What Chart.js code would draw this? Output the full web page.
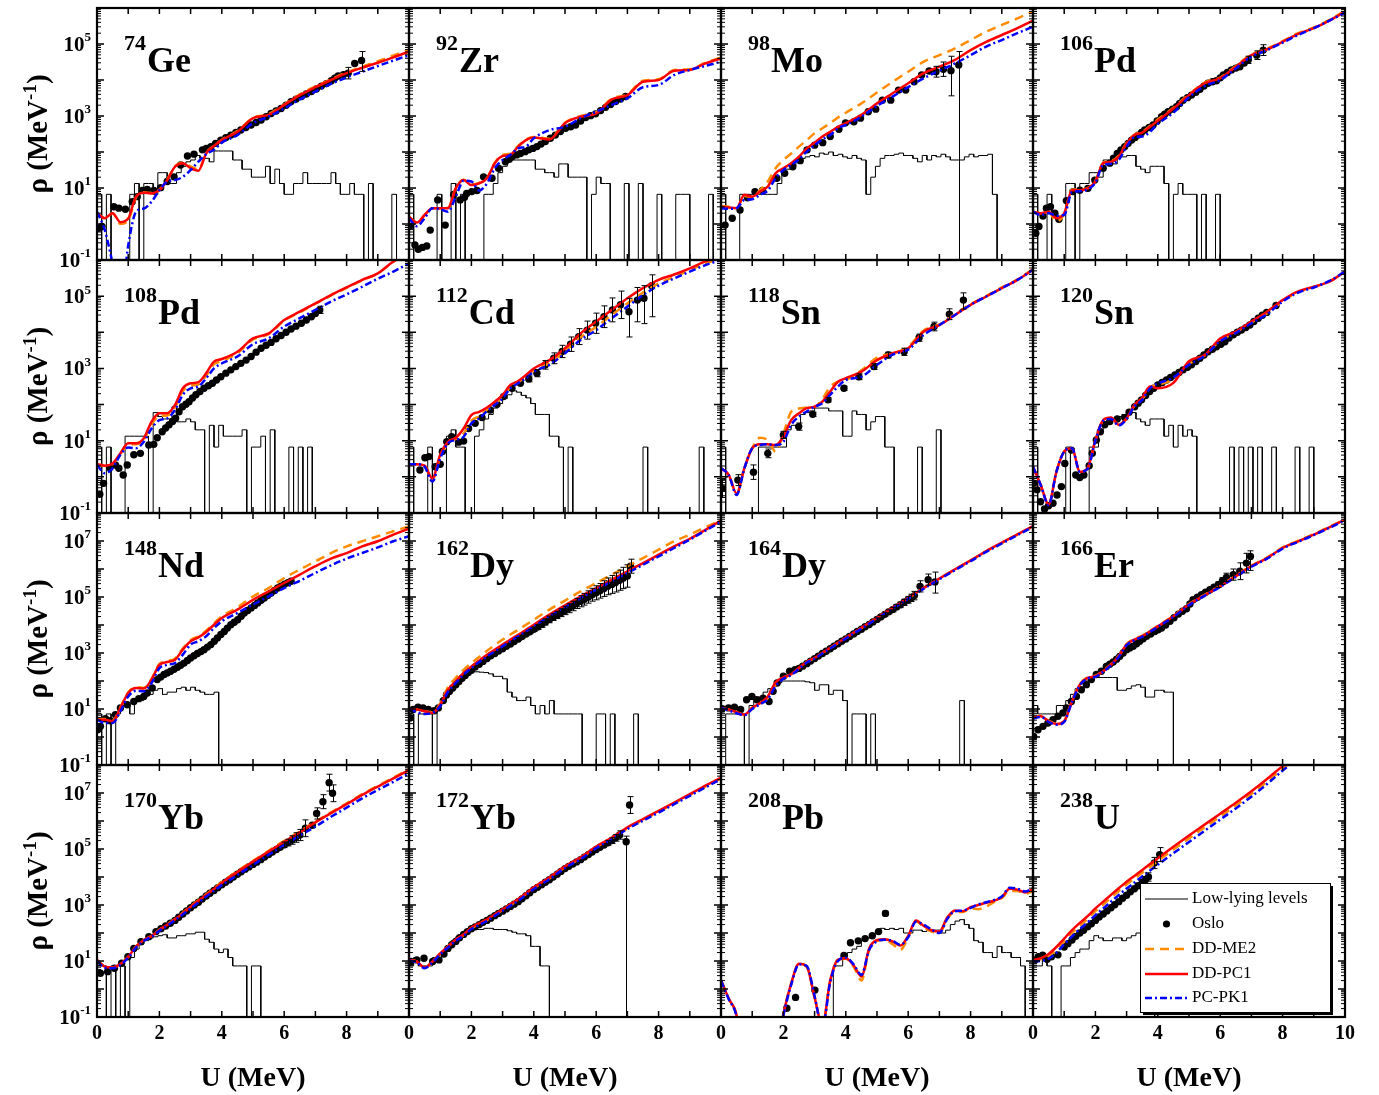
<!DOCTYPE html>
<html>
<head>
<meta charset="utf-8">
<script src="https://cdn.jsdelivr.net/npm/chart.js@4.4.1/dist/chart.umd.min.js"></script>
<style>
body { margin: 0; background: #fff; }
#wrap { position: relative; width: 1379px; height: 1095px; overflow: hidden; }
#wrap canvas { position: absolute; }
</style>
</head>
<body>
<div id="wrap"></div>
<script>
// energy grids (MeV) and histogram bin width
const E29 = [0,0.25,0.5,0.75,1,1.25,1.5,1.75,2,2.25,2.5,2.75,3,3.25,3.5,3.75,4,4.5,5,5.5,6,6.5,7,7.5,8,8.5,9,9.5,10];
const E41 = [0,0.25,0.5,0.75,1,1.25,1.5,1.75,2,2.25,2.5,2.75,3,3.25,3.5,3.75,4,4.25,4.5,4.75,5,5.25,5.5,5.75,6,6.25,6.5,6.75,7,7.25,7.5,7.75,8,8.25,8.5,8.75,9,9.25,9.5,9.75,10];
const BIN = 0.15;
const LEGEND_LABELS = ['Low-lying levels', 'Oslo', 'DD-ME2', 'DD-PC1', 'PC-PK1'];

// curves: log10(rho) on the grid; oslo: [U, log10 rho, errLo, errHi]; lev: levels per 0.15 MeV bin
const ge74_me2 = [0.30,0.16,0.30,0.0,0.1,0.74,0.88,0.86,0.95,1.24,1.6,1.7,1.6,1.52,1.97,2.18,2.34,2.58,2.95,3.05,3.32,3.6,3.82,4.02,4.21,4.37,4.52,4.68,4.84];
const ge74_pc1 = [0.30,0.16,0.30,0.05,0.15,0.76,0.87,0.85,0.94,1.22,1.59,1.69,1.55,1.48,1.96,2.17,2.33,2.56,2.94,3.03,3.31,3.58,3.8,4.0,4.19,4.34,4.48,4.63,4.79];
const ge74_pk1 = [0.34,-0.17,-1.1,-2.2,-0.6,0.34,0.43,0.62,0.94,1.18,1.22,1.31,1.5,1.73,1.94,2.06,2.26,2.47,2.8,2.98,3.21,3.46,3.68,3.89,4.07,4.23,4.39,4.54,4.69];
const ge74_oslo = [[0.05,-0.12],[0.16,-0.07],[0.54,0.48],[0.7,0.44],[0.91,0.41],[1.13,0.62],[1.29,0.76],[1.45,0.93],[1.61,0.96],[1.82,0.93],[2.04,1.01],[2.25,1.18],[2.47,1.31],[2.68,1.64],[2.9,1.89],[3.11,1.94],[3.38,2.06],[3.65,2.15],[3.97,2.33],[4.29,2.47],[4.61,2.61],[4.94,2.75],[5.26,2.89],[5.58,3.07],[5.9,3.21],[6.22,3.4],[6.55,3.54],[6.87,3.68],[7.19,3.83],[7.51,3.98],[7.73,4.11],[8.05,4.19,0.16,0.16],[8.26,4.46],[8.48,4.54,0.3,0.25],
  [3.5,2.1],[3.8,2.24],[4.13,2.4],[4.45,2.54],[4.77,2.68],[5.1,2.82],[5.42,2.98],[5.74,3.14],[6.06,3.3],[6.38,3.47],[6.71,3.61],[7.03,3.75],[7.35,3.9],[7.62,4.05],[7.9,4.15]];
const ge74_lev = [1,0,1,0,0,0,0,1,2,0,2,2,1,4,4,2,2,4,6,8,9,12,10,10,8,16,16,16,16,9,9,5,5,3,3,3,6,2,5,2,1,1,2,2,4,2,2,2,2,2,4,2,1,1,2,1,1,0,2,0,0,0,0,1];

const zr92_me2 = [0.2,0.04,0.25,0.44,0.44,0.45,1.0,1.23,1.1,1.14,1.28,1.7,1.92,1.95,2.17,2.35,2.42,2.37,2.82,3.0,3.1,3.48,3.6,3.98,4.02,4.28,4.3,4.48,4.62];
const zr92_pc1 = [0.2,0.04,0.25,0.44,0.44,0.44,0.99,1.22,1.08,1.13,1.27,1.69,1.89,1.92,2.15,2.33,2.4,2.35,2.8,2.98,3.07,3.46,3.58,3.95,4.0,4.26,4.28,4.46,4.6];
const zr92_pk1 = [0.16,-0.06,0.16,0.44,0.41,0.34,0.76,1.2,1.18,0.93,1.13,1.55,1.78,1.92,2.1,2.15,2.38,2.61,2.7,2.94,3.12,3.31,3.49,3.8,3.86,4.14,4.28,4.39,4.51];
const zr92_oslo = [[0.02,-0.07],[0.19,-0.58],[0.3,-0.7],[0.43,-0.65],[0.57,-0.61],[0.68,-0.17],[0.92,0.67],[1.16,-0.03],[1.43,0.82],[1.64,0.67],[1.78,0.74],[1.85,0.85],[2.01,0.9],[2.18,0.93],[2.39,1.31],[2.66,1.27],[2.87,1.55],[3.09,1.73],[3.3,1.87],[3.57,1.96],[3.84,2.06],[4.1,2.15],[4.37,2.29],[4.69,2.47],[5.02,2.66],[5.34,2.75],[5.66,2.96],[5.98,3.06],[6.3,3.24],[6.62,3.4],[6.94,3.54],
  [3.2,1.8],[3.45,1.92],[3.72,2.01],[3.97,2.1],[4.23,2.22],[4.53,2.38],[4.85,2.57],[5.18,2.7],[5.5,2.86],[5.82,3.01],[6.14,3.15],[6.46,3.32],[6.78,3.47]];
const zr92_lev = [1,0,0,0,0,0,1,0,0,2,0,1,0,0,0,0,1,1,2,4,6,8,9,9,9,9,9,5,5,4,4,3,7,7,3,3,3,3,0,1,3,2,2,0,0,0,2,0,0,2,0,0,0,1,0,0,0,1,1,1,0,0,0,0,1];

const mo98_me2 = [0.5,0.48,0.44,0.78,0.74,0.94,1.18,1.55,1.78,1.96,2.15,2.33,2.52,2.66,2.8,2.96,3.09,3.35,3.65,3.95,4.23,4.51,4.69,4.88,5.11,5.34,5.53,5.71,5.9];
const mo98_pc1 = [0.48,0.46,0.44,0.81,0.76,0.9,1.04,1.41,1.55,1.69,1.87,2.1,2.26,2.43,2.56,2.7,2.8,3.03,3.35,3.63,3.91,4.19,4.37,4.56,4.83,5.06,5.25,5.44,5.65];
const mo98_pk1 = [0.44,0.42,0.44,0.67,0.69,0.81,0.93,1.27,1.5,1.64,1.8,2.01,2.19,2.35,2.47,2.66,2.75,2.98,3.28,3.54,3.8,4.05,4.26,4.46,4.69,4.93,5.11,5.3,5.48];
const mo98_oslo = [[0.13,-0.03],[0.36,0.16],[0.61,0.39],[0.85,0.73],[1.09,0.9],[1.33,0.93],[1.79,1.27],[2.04,1.41],[2.3,1.59],[2.54,1.76],[2.76,2.06],[3.0,2.19],[3.26,2.26],[3.5,2.43],[3.78,2.63],[3.99,2.81],[4.26,2.84],[4.47,2.94],[4.72,3.12],[4.96,3.19],[5.17,3.44],[5.44,3.44],[5.69,3.72],[5.92,3.72],[6.19,3.95],[6.43,4.14],[6.67,4.25],[6.89,4.23,0.15,0.15],[7.13,4.3,0.2,0.2],[7.37,4.26,0.7,0.4],[7.62,4.42,9,0.37]];
const mo98_lev = [1,0,0,0,1,1,1,1,1,1,1,1,2,5,5,6,9,10,11,12,11,14,13,15,12,13,11,10,12,10,9,1,3,6,10,12,12,13,14,12,12,10,8,12,9,12,11,13,11,9,9,9,11,13,11,12,12,13,1];

const pd106_me2 = [0.34,0.3,0.32,0.08,0.28,0.95,0.96,1.0,1.2,1.7,1.75,1.9,2.26,2.48,2.56,2.72,2.9,3.23,3.6,3.93,4.07,4.39,4.71,4.87,5.08,5.3,5.46,5.67,5.92];
const pd106_pc1 = [0.34,0.3,0.34,0.16,0.3,0.94,0.94,0.99,1.18,1.69,1.73,1.87,2.24,2.47,2.54,2.7,2.87,3.21,3.58,3.91,4.05,4.37,4.69,4.85,5.06,5.28,5.44,5.65,5.9];
const pd106_pk1 = [0.34,0.25,0.3,0.23,0.25,0.89,0.91,0.96,1.15,1.64,1.67,1.78,2.15,2.41,2.43,2.56,2.78,3.09,3.52,3.83,4.0,4.32,4.65,4.83,5.04,5.25,5.44,5.65,5.87];
const pd106_oslo = [[0.09,-0.26],[0.19,-0.07],[0.32,0.22],[0.43,0.44],[0.56,0.48],[0.7,0.3],[0.83,0.13],[1.07,0.65],[1.28,0.9],[1.5,0.94],[1.76,0.99],[1.98,1.22],[2.25,1.55],[2.46,1.69],[2.7,1.96],[2.94,2.15],[3.16,2.33],[3.37,2.47],[3.58,2.61],[3.85,2.75],[4.12,2.98],[4.33,3.12],[4.6,3.26],[4.81,3.44],[5.08,3.58],[5.35,3.74],[5.61,3.91],[5.88,3.98],[6.1,4.14],[6.36,4.28],[6.63,4.37],[6.9,4.56,0.1,0.1],[7.17,4.69,0.12,0.12],[7.38,4.83,0.15,0.15],
  [2.58,1.83],[2.82,2.06],[3.05,2.24],[3.27,2.4],[3.48,2.54],[3.72,2.68],[3.98,2.86],[4.22,3.05],[4.47,3.19],[4.7,3.35],[4.95,3.51],[5.22,3.66],[5.48,3.83],[5.75,3.95],[6.0,4.06],[6.23,4.21],[6.5,4.33],[6.77,4.47]];
const pd106_lev = [1,0,0,1,0,0,0,2,2,0,2,2,4,4,3,9,9,7,11,11,12,12,6,5,4,6,6,6,2,0,1,2,1,1,1,0,1,0,0,1];

const pd108_me2 = [0.35,0.3,0.36,0.63,0.9,0.9,1.02,1.45,1.68,1.7,1.92,2.37,2.52,2.56,2.8,3.12,3.2,3.42,3.8,3.95,4.32,4.55,4.79,5.02,5.23,5.44,5.63,5.95,6.2];
const pd108_pc1 = [0.35,0.31,0.37,0.65,0.93,0.93,1.07,1.53,1.76,1.76,1.99,2.45,2.59,2.62,2.87,3.19,3.26,3.46,3.83,3.97,4.34,4.57,4.8,5.03,5.24,5.45,5.63,5.96,6.2];
const pd108_pk1 = [0.33,0.1,0.24,0.61,0.81,0.79,0.97,1.34,1.57,1.62,1.85,2.27,2.45,2.5,2.73,3.0,3.14,3.33,3.67,3.83,4.16,4.39,4.62,4.85,5.05,5.26,5.48,5.68,5.91];
const pd108_oslo = [[0.09,-0.48],[0.21,-0.18],[0.41,0.25],[0.59,0.33],[0.7,0.24],[0.84,0.05],[0.97,0.33],[1.18,0.61],[1.39,0.65],[1.66,0.88],[1.82,0.9],[1.93,1.08],[2.09,1.25],[2.31,1.44],[2.52,1.62],[2.74,1.94],[2.95,2.08],[3.17,2.27],[3.43,2.45],[3.7,2.59],[3.97,2.77],[4.29,2.96],[4.61,3.14],[4.94,3.33],[5.26,3.56],[5.58,3.72],[5.9,3.91],[6.22,4.09],[6.55,4.25],[6.87,4.43],[7.14,4.62,0.1,0.1],
  [2.2,1.35],[2.42,1.53],[2.63,1.8],[2.85,2.01],[3.06,2.18],[3.3,2.36],[3.57,2.52],[3.83,2.68],[4.13,2.87],[4.45,3.05],[4.78,3.23],[5.1,3.45],[5.42,3.64],[5.74,3.82],[6.06,4.0],[6.38,4.17],[6.71,4.34],[7.0,4.52]];
const pd108_lev = [1,0,1,0,0,0,2,2,2,2,2,0,9,7,6,6,13,5,5,6,5,3,3,0,4,1,4,2,2,2,2,3,0,1,1,2,0,3,0,0,0,1,0,1,0,1];

const cd112_me2 = [0.35,0.35,0.3,-0.08,0.55,0.95,1.05,1.2,1.55,1.68,1.86,2.03,2.22,2.5,2.62,2.78,2.95,3.15,3.48,3.86,4.15,4.48,4.8,5.1,5.35,5.53,5.72,5.9,6.04];
const cd112_pc1 = [0.35,0.35,0.31,-0.04,0.61,0.97,1.08,1.34,1.71,1.8,1.92,2.08,2.27,2.54,2.65,2.82,3.0,3.23,3.56,3.97,4.3,4.62,4.94,5.22,5.45,5.6,5.77,5.96,6.1];
const cd112_pk1 = [0.35,0.35,0.28,-0.13,0.51,0.93,1.02,1.11,1.48,1.62,1.82,1.99,2.17,2.45,2.59,2.73,2.91,3.1,3.42,3.79,4.06,4.39,4.71,5.03,5.29,5.49,5.68,5.86,6.0];
const cd112_oslo = [[0.35,0.19],[0.51,0.53],[0.64,0.56],[0.84,0.28],[1.0,0.35],[1.07,0.7],[1.21,0.97],[1.37,1.11],[1.59,0.96],[1.75,0.99],[1.91,1.34],[2.12,1.48],[2.34,1.64],[2.6,1.85],[2.82,2.01],[3.03,2.22],[3.3,2.45],[3.57,2.59],[3.84,2.71,0.08,0.08],[4.1,2.87,0.1,0.1],[4.37,3.1,0.12,0.12],[4.64,3.28,0.15,0.15],[4.91,3.47,0.17,0.17],[5.18,3.67,0.2,0.2],[5.44,3.88,0.22,0.22],[5.71,4.06,0.25,0.25],[5.98,4.25,0.28,0.28],[6.25,4.43,0.3,0.3],[6.52,4.62,0.33,0.33],[6.78,4.76,0.38,0.38],[7.05,4.57,0.7,0.37],[7.32,4.89,0.6,0.35],[7.53,4.94,0.7,0.35],[7.78,5.29,0.86,0.3]];
const cd112_lev = [1,0,0,0,1,0,0,0,2,3,1,1,0,0,2,3,6,8,12,16,22,28,36,33,27,23,16,8,8,8,2,2,1,0,1,0,0,0,0,0,0,0,0,0,0,0,0,0,0,0,1,0,0,0,0,0,0,0,0,0,0,0,1];

const sn118_me2 = [0.24,0.05,-0.46,0.24,0.79,1.08,1.01,0.7,1.2,1.8,1.89,1.92,1.94,2.15,2.5,2.63,2.68,2.95,3.3,3.42,3.6,4.05,4.22,4.5,4.78,5.0,5.24,5.46,5.75];
const sn118_pc1 = [0.24,0.05,-0.46,0.24,0.79,0.9,0.9,0.88,1.11,1.57,1.76,1.9,1.94,2.08,2.36,2.63,2.73,2.91,3.23,3.42,3.56,4.02,4.2,4.48,4.76,4.99,5.22,5.45,5.73];
const sn118_pk1 = [0.24,0.05,-0.5,0.24,0.79,0.88,0.9,0.88,0.97,1.44,1.67,1.81,1.94,2.04,2.27,2.5,2.68,2.77,3.1,3.38,3.52,3.93,4.2,4.48,4.76,4.99,5.22,5.45,5.73];
const sn118_oslo = [[0.04,-0.32,0.25,0.25],[0.54,-0.09,0.15,0.15],[1.04,0.13,0.2,0.2],[1.5,0.65,0.12,0.12],[2.0,1.16,0.1,0.1],[2.49,1.39,0.1,0.1],[2.94,1.73,0.06,0.06],[3.43,2.13,0.06,0.06],[3.94,2.45,0.06,0.06],[4.42,2.77,0.08,0.08],[4.9,3.05,0.08,0.08],[5.36,3.37,0.08,0.08],[5.87,3.46,0.1,0.1],[6.35,3.85,0.1,0.1],[6.83,4.16,0.12,0.12],[7.32,4.5,0.15,0.15],[7.77,4.89,0.25,0.2]];
const sn118_lev = [1,0,0,0,0,0,0,0,1,1,1,1,1,1,3,4,4,8,9,10,12,12,12,10,10,10,2,2,10,8,8,3,5,7,7,1,1,0,0,0,0,0,1,0,0,0,3];

const sn120_me2 = [0.28,-0.23,-0.77,0.14,0.7,0.79,0.14,0.23,1.01,1.56,1.62,1.45,1.61,1.97,2.16,2.47,2.55,2.7,3.12,3.36,3.77,4.0,4.27,4.52,4.86,5.11,5.25,5.41,5.68];
const sn120_pc1 = [0.28,-0.23,-0.76,0.14,0.7,0.79,0.14,0.24,1.02,1.57,1.64,1.44,1.62,1.99,2.19,2.5,2.45,2.6,3.2,3.37,3.83,4.02,4.3,4.57,4.89,5.13,5.26,5.4,5.68];
const sn120_pk1 = [0.28,-0.23,-0.78,0.14,0.7,0.79,0.14,0.22,1.0,1.55,1.6,1.42,1.6,1.95,2.13,2.45,2.58,2.75,3.1,3.35,3.75,3.98,4.25,4.5,4.85,5.1,5.24,5.42,5.68];
const sn120_oslo = [[0.02,-0.18],[0.13,-0.36],[0.24,-0.69],[0.37,-0.89],[0.5,-0.8],[0.64,-0.73],[0.77,-0.5],[0.91,-0.27],[1.02,0.37],[1.23,0.74],[1.37,0.05],[1.5,-0.02],[1.63,0.05],[1.8,0.31],[1.9,0.65],[2.03,1.02],[2.16,1.25],[2.3,1.44],[2.46,1.53],[2.7,1.6],[2.94,1.64],[3.08,1.79],[3.26,1.94],[3.48,2.13],[3.74,2.36],[4.0,2.54],[4.28,2.68],[4.55,2.82],[4.81,2.96],[5.08,3.1],[5.35,3.28],[5.61,3.46],[5.88,3.6],[6.15,3.74],[6.42,3.93],[6.68,4.06],[6.95,4.2],[7.22,4.39],[7.49,4.55],[7.79,4.74],
  [3.37,2.04],[3.61,2.25],[3.87,2.45],[4.14,2.61],[4.41,2.75],[4.68,2.89],[4.95,3.03],[5.22,3.19],[5.48,3.37],[5.75,3.53],[6.02,3.67],[6.28,3.84],[6.55,4.0],[6.82,4.13],[7.08,4.3],[7.35,4.47]];
const sn120_lev = [1,0,0,0,0,0,0,1,0,0,0,0,1,1,3,5,6,6,7,8,9,9,6,5,4,6,6,6,2,4,1,4,2,3,2,0,0,0,0,0,0,0,1,0,1,0,1,0,1,0,0,1,0,0,0,0,1,0,0,1];

const nd148_me2 = [0.64,0.64,0.58,1.07,1.6,1.78,1.76,2.08,2.61,2.71,2.8,3.16,3.46,3.6,3.8,4.06,4.31,4.63,5.02,5.32,5.68,5.98,6.27,6.57,6.81,6.99,7.17,7.35,7.52];
const nd148_pc1 = [0.62,0.62,0.56,1.04,1.57,1.75,1.73,2.05,2.58,2.68,2.76,3.12,3.42,3.56,3.75,4.01,4.25,4.55,4.9,5.2,5.5,5.8,6.1,6.37,6.57,6.81,6.99,7.23,7.44];
const nd148_pk1 = [0.62,0.5,0.5,0.92,1.45,1.65,1.63,1.93,2.46,2.58,2.64,2.94,3.3,3.42,3.6,3.89,4.13,4.43,4.73,5.02,5.32,5.58,5.86,6.13,6.37,6.57,6.77,6.99,7.17];
const nd148_oslo = [[0.02,0.26],[0.11,0.38],[0.27,0.65],[0.43,0.58],[0.59,0.8],[0.75,1.04],[0.97,1.15],[1.18,1.27],[1.34,1.37],[1.5,1.45],[1.61,1.57],[1.77,1.75],[1.93,2.05],[2.15,2.23],[2.36,2.35],[2.58,2.49],[2.79,2.64],[3.0,2.82],[3.22,2.98],[3.43,3.12],[3.65,3.3],[3.86,3.54],[4.08,3.77],[4.29,4.01],[4.51,4.19],[4.72,4.43],[4.94,4.61],[5.15,4.79],[5.36,4.96],[5.58,5.14],[5.79,5.32],[6.01,5.46],[6.22,5.56],
  [2.04,2.14],[2.25,2.29],[2.47,2.42],[2.68,2.56],[2.9,2.73],[3.11,2.9],[3.33,3.05],[3.54,3.21],[3.76,3.42],[3.97,3.66],[4.18,3.89],[4.4,4.1],[4.62,4.31],[4.83,4.52],[5.05,4.7],[5.26,4.88],[5.47,5.05],[5.69,5.23],[5.9,5.39],[6.12,5.51]];
const nd148_lev = [1,0,1,0,1,2,2,1,3,3,5,5,7,8,5,6,6,8,9,7,9,7,6,5,5,6];

const dy162_me2 = [0.98,0.98,0.92,0.88,1.2,1.78,2.11,2.4,2.64,2.86,3.08,3.28,3.48,3.66,3.83,4.01,4.19,4.55,4.87,5.2,5.5,5.8,6.1,6.39,6.69,6.99,7.23,7.49,7.75];
const dy162_pc1 = [0.98,0.98,0.92,0.86,1.15,1.69,1.99,2.29,2.52,2.73,2.94,3.12,3.3,3.48,3.65,3.83,4.01,4.37,4.7,5.02,5.32,5.62,5.92,6.21,6.51,6.81,7.08,7.4,7.73];
const dy162_pk1 = [0.98,0.89,0.82,0.86,1.1,1.61,1.93,2.23,2.46,2.68,2.88,3.06,3.24,3.42,3.6,3.77,3.95,4.31,4.63,4.96,5.26,5.56,5.86,6.15,6.45,6.75,7.05,7.37,7.68];
const dy162_oslo = [[0.03,0.68],[0.13,0.98],[0.29,1.06],[0.45,1.04],[0.62,0.98],[0.81,0.94],[0.94,1.04],[1.2,1.5],[1.4,1.75],[1.6,1.98],[1.8,2.2],[2.0,2.38],[2.25,2.6],[2.5,2.8],[2.75,2.98],[3.0,3.15],[3.25,3.32],[3.5,3.5,0.05,0.05],[3.75,3.68,0.06,0.06],[4.0,3.85,0.08,0.08],[4.25,4.02,0.1,0.1],[4.5,4.2,0.12,0.12],[4.75,4.36,0.13,0.13],[5.0,4.52,0.15,0.15],[5.25,4.68,0.17,0.17],[5.5,4.85,0.2,0.2],[5.75,5.0,0.22,0.22],[6.0,5.15,0.25,0.25],[6.25,5.3,0.28,0.28],[6.5,5.45,0.32,0.32],[6.75,5.6,0.36,0.36],[7.0,5.75,0.4,0.4],[7.1,6.1,0.25,0.25],
  [1.1,1.3],[1.3,1.63],[1.5,1.87],[1.7,2.1],[1.9,2.3],[2.12,2.5],[2.37,2.7],[2.62,2.9],[2.87,3.07],[3.12,3.24],[3.37,3.41],[3.62,3.59,0.05,0.05],[3.87,3.76,0.07,0.07],[4.12,3.93,0.09,0.09],[4.37,4.11,0.11,0.11],[4.62,4.28,0.12,0.12],[4.87,4.44,0.14,0.14],[5.12,4.6,0.16,0.16],[5.37,4.77,0.18,0.18],[5.62,4.92,0.21,0.21],[5.87,5.08,0.23,0.23],[6.12,5.22,0.26,0.26],[6.37,5.38,0.3,0.3],[6.62,5.52,0.34,0.34],[6.87,5.68,0.38,0.38]];
const dy162_lev = [1,0,1,1,1,0,2,3,5,8,12,18,25,33,32,31,30,27,22,22,18,6,4,3,3,4,2,1,2,1,3,1,1,1,1,1,1,0,0,0,1,1,0,1,0,0,0,0,1];

const dy164_me2 = [1.04,0.98,0.89,0.8,1.04,1.21,1.39,1.87,2.11,2.23,2.46,2.68,2.82,3.0,3.18,3.36,3.54,3.89,4.25,4.61,4.96,5.32,5.65,5.98,6.3,6.63,6.93,7.23,7.52];
const dy164_pc1 = [1.04,0.98,0.89,0.8,1.04,1.21,1.45,1.95,2.13,2.24,2.47,2.69,2.83,3.01,3.19,3.37,3.55,3.9,4.26,4.62,4.97,5.33,5.66,5.99,6.31,6.64,6.94,7.24,7.53];
const dy164_pk1 = [1.04,0.95,0.85,0.78,1.0,1.17,1.35,1.82,2.08,2.21,2.44,2.66,2.8,2.98,3.16,3.34,3.52,3.87,4.23,4.59,4.94,5.3,5.63,5.96,6.28,6.61,6.91,7.21,7.5];
const dy164_oslo = [[0.04,1.01],[0.24,1.04],[0.43,1.06],[0.63,0.98],[0.82,1.33],[0.99,1.45],[1.15,1.33],[1.35,1.39],[1.54,1.27],[1.67,1.63],[1.8,1.93],[2.0,2.17],[2.2,2.35],[2.5,2.45],[2.75,2.62],[3.0,2.8],[3.25,2.98],[3.5,3.15],[3.75,3.33],[4.0,3.5],[4.25,3.68],[4.5,3.85],[4.75,4.02],[5.0,4.2,0.05,0.05],[5.25,4.38,0.06,0.06],[5.5,4.55,0.08,0.08],[5.75,4.72,0.1,0.1],[6.0,4.9,0.12,0.12],[6.2,5.05,0.15,0.15],[6.38,5.38,0.2,0.2],[6.64,5.62,0.2,0.2],[6.86,5.54,0.4,0.35],
  [2.37,2.4],[2.62,2.53],[2.87,2.71],[3.12,2.89],[3.37,3.06],[3.62,3.24],[3.87,3.42],[4.12,3.59],[4.37,3.77],[4.62,3.94],[4.87,4.11],[5.12,4.29,0.05,0.05],[5.37,4.47,0.07,0.07],[5.62,4.64,0.09,0.09],[5.87,4.81,0.11,0.11],[6.1,4.97,0.13,0.13]];
const dy164_lev = [0,1,1,1,1,0,2,3,4,6,8,10,13,15,15,15,15,15,14,13,7,11,11,5,7,7,3,0,1,1,1,0,1,0,0,0,0,0,0,0,0,0,0,0,0,0,0,0,0,0,0,3];

const er166_me2 = [0.7,0.76,0.58,0.48,0.58,1.29,1.89,2.13,2.19,2.37,2.6,2.9,3.32,3.5,3.62,3.79,3.97,4.33,4.75,5.08,5.4,5.76,6.12,6.41,6.77,7.01,7.25,7.51,7.78];
const er166_pc1 = [0.68,0.74,0.56,0.46,0.56,1.27,1.87,2.11,2.17,2.35,2.58,2.88,3.3,3.48,3.6,3.77,3.95,4.31,4.73,5.06,5.38,5.74,6.1,6.39,6.75,6.99,7.23,7.49,7.76];
const er166_pk1 = [0.66,0.72,0.54,0.44,0.54,1.25,1.85,2.09,2.15,2.33,2.56,2.86,3.28,3.46,3.58,3.75,3.93,4.29,4.71,5.04,5.36,5.72,6.08,6.37,6.73,6.97,7.21,7.47,7.74];
const er166_oslo = [[0.02,0.02],[0.16,0.26],[0.32,0.38],[0.48,0.5],[0.64,0.62],[0.8,0.74],[0.96,0.86],[1.07,1.04],[1.23,1.27],[1.39,1.45],[1.55,1.69],[1.71,1.87],[1.87,2.05],[2.03,2.23],[2.19,2.35],[2.35,2.52],[2.57,2.68],[2.78,2.88],[3.0,3.12],[3.21,3.24],[3.42,3.42],[3.64,3.6],[3.9,3.77],[4.12,3.89],[4.39,4.13],[4.66,4.39],[4.92,4.58],[5.13,4.9],[5.4,5.08],[5.67,5.26],[5.94,5.44,0.1,0.1],[6.2,5.7,0.15,0.15],[6.42,5.8,0.2,0.2],[6.63,5.92,0.3,0.3],[6.84,6.21,0.35,0.35],[6.97,6.45,0.5,0.2],
  [2.46,2.6],[2.68,2.78],[2.89,3.0],[3.1,3.18],[3.32,3.33],[3.53,3.51],[3.77,3.68],[4.01,3.83],[4.25,4.0],[4.52,4.26],[4.79,4.49],[5.03,4.75],[5.27,4.99],[5.53,5.17],[5.8,5.35],[6.07,5.57,0.12,0.12]];
const er166_lev = [2,1,1,1,1,2,2,3,5,8,12,15,18,20,20,20,20,20,7,7,8,10,11,9,4,4,7,7,6,6];

const yb170_me2 = [1.04,0.8,0.77,0.89,1.15,1.51,1.75,1.9,2.12,2.3,2.5,2.72,2.96,3.17,3.38,3.6,3.82,4.21,4.58,4.94,5.29,5.63,5.98,6.31,6.63,6.96,7.26,7.55,7.85];
const yb170_pc1 = [1.04,0.8,0.77,0.89,1.15,1.51,1.75,1.89,2.11,2.29,2.49,2.7,2.94,3.15,3.36,3.57,3.79,4.18,4.55,4.91,5.26,5.6,5.95,6.28,6.6,6.93,7.23,7.52,7.82];
const yb170_pk1 = [1.0,0.76,0.74,0.86,1.12,1.48,1.72,1.87,2.08,2.26,2.46,2.66,2.88,3.09,3.3,3.51,3.71,4.07,4.43,4.79,5.14,5.48,5.8,6.15,6.48,6.81,7.11,7.4,7.7];
const yb170_oslo = [[0.11,0.56],[0.34,0.62],[0.56,0.74],[0.79,0.92],[0.99,1.15],[1.18,1.45],[1.41,1.69],[1.66,1.87],[1.89,2.05],[2.2,2.25],[2.5,2.45],[2.75,2.68],[3.0,2.9],[3.25,3.1],[3.5,3.32],[3.75,3.52],[4.0,3.72],[4.25,3.9],[4.5,4.1],[4.75,4.28],[5.0,4.45],[5.25,4.62],[5.5,4.8],[5.75,4.98],[6.0,5.15,0.1,0.1],[6.25,5.32,0.15,0.15],[6.5,5.5,0.2,0.2],[6.68,5.74,0.3,0.3],[6.9,5.85],[7.04,6.27,0.2,0.2],[7.24,6.69,0.25,0.25],[7.44,7.37,0.3,0.3],[7.55,6.99,0.3,0.3],
  [2.05,2.15],[2.35,2.35],[2.62,2.56],[2.87,2.79],[3.12,3.0],[3.37,3.21],[3.62,3.42],[3.87,3.62],[4.12,3.81],[4.37,4.0],[4.62,4.19],[4.87,4.36],[5.12,4.53],[5.37,4.71],[5.62,4.89],[5.87,5.06],[6.12,5.23,0.12,0.12],[6.37,5.41,0.17,0.17]];
const yb170_lev = [1,1,0,1,0,1,0,2,4,6,8,10,11,12,13,10,10,12,12,14,14,16,16,9,7,4,3,4,2,1,1,1,0,1,1];

const yb172_me2 = [1.04,0.98,0.77,0.98,1.27,1.51,1.75,1.93,2.17,2.32,2.46,2.64,2.82,3.0,3.18,3.39,3.6,3.95,4.35,4.67,5.06,5.38,5.74,6.04,6.33,6.63,6.93,7.23,7.52];
const yb172_pc1 = [1.04,0.98,0.77,0.98,1.27,1.52,1.77,1.95,2.2,2.35,2.49,2.67,2.85,3.03,3.21,3.42,3.63,3.98,4.38,4.7,5.09,5.41,5.77,6.07,6.36,6.66,6.96,7.26,7.55];
const yb172_pk1 = [1.02,0.95,0.74,0.95,1.24,1.48,1.72,1.9,2.14,2.29,2.43,2.61,2.79,2.97,3.15,3.36,3.57,3.92,4.32,4.64,5.03,5.35,5.71,6.01,6.3,6.6,6.9,7.2,7.49];
const yb172_oslo = [[0.06,0.98],[0.25,1.04],[0.48,1.1],[0.76,0.98],[0.96,1.04],[1.25,1.45],[1.5,1.7],[1.75,1.95],[2.0,2.15],[2.25,2.3],[2.5,2.45],[2.75,2.62],[3.0,2.78],[3.25,2.95],[3.5,3.12],[3.75,3.33],[4.0,3.55],[4.25,3.72],[4.5,3.9],[4.75,4.1],[5.0,4.3],[5.25,4.46],[5.5,4.62],[5.75,4.8],[6.0,4.98],[6.25,5.14],[6.5,5.3,0.1,0.1],[6.75,5.5,0.15,0.15],[6.96,5.26,9,0.2],[7.07,6.57,0.3,0.3],
  [1.12,1.25],[1.37,1.58],[1.62,1.83],[1.87,2.05],[2.12,2.22],[2.37,2.38],[2.62,2.53],[2.87,2.7],[3.12,2.86],[3.37,3.03],[3.62,3.22],[3.87,3.44],[4.12,3.63],[4.37,3.81],[4.62,4.0],[4.87,4.2],[5.12,4.38],[5.37,4.54],[5.62,4.71],[5.87,4.89],[6.12,5.06],[6.37,5.22,0.08,0.08],[6.62,5.4,0.12,0.12]];
const yb172_lev = [1,2,1,1,1,2,2,3,5,8,11,14,17,20,20,20,22,22,20,20,20,18,16,14,14,12,5,5,1,1];

const pb208_me2 = [0.32,-0.35,-0.95,-3,-3,-3,-3,-2.5,-0.9,0.2,0.9,0.8,-0.3,-1.3,0.3,1.0,1.08,0.8,0.3,1.4,1.72,1.75,1.6,1.4,1.85,2.42,2.2,2.05,2.0,2.5,2.75,2.75,2.88,2.85,2.95,3.1,3.25,3.5,3.5,3.4,3.5];
const pb208_pc1 = [0.32,-0.35,-0.95,-3,-3,-3,-3,-2.5,-0.9,0.2,0.9,0.8,-0.3,-1.3,0.3,1.05,1.1,0.85,0.45,1.45,1.75,1.78,1.7,1.55,1.9,2.45,2.25,2.1,2.05,2.55,2.8,2.78,2.92,3.0,3.08,3.15,3.28,3.58,3.55,3.45,3.58];
const pb208_pk1 = [0.3,-0.37,-1.0,-3,-3,-3,-3,-2.5,-0.95,0.15,0.88,0.82,-0.25,-1.4,0.25,1.0,1.12,0.88,0.5,1.4,1.7,1.76,1.72,1.58,1.85,2.4,2.3,2.12,2.0,2.5,2.78,2.8,2.9,3.02,3.1,3.18,3.3,3.62,3.58,3.48,3.6];
const pb208_oslo = [[2.11,-0.69],[2.39,-0.3],[3.01,-0.04],[3.94,1.2],[4.15,1.65],[4.4,1.72],[4.62,1.8],[4.85,1.9],[5.05,2.05],[5.27,2.7,0.08,0.08]];
const pb208_lev = [0,0,0,0,0,0,0,0,0,0,0,0,0,0,0,0,0,0,0,0,0,0,0,0,1,1,2,3,4,5,8,10,14,18,22,20,22,20,22,15,15,19,19,17,19,19,19,15,19,30,40,45,30,22,8,7,3,3,2,5,3,3,2,2,1];

const u238_me2 = [1.02,1.06,1.18,1.4,1.7,2.0,2.26,2.5,2.78,3.02,3.26,3.5,3.73,3.94,4.15,4.36,4.57,4.98,5.38,5.77,6.16,6.55,6.96,7.4,7.86,8.3,8.7,9.1,9.5];
const u238_pc1 = [1.04,1.1,1.25,1.5,1.8,2.1,2.36,2.6,2.88,3.12,3.36,3.6,3.83,4.04,4.25,4.46,4.67,5.08,5.48,5.87,6.26,6.65,7.06,7.5,7.96,8.4,8.8,9.2,9.6];
const u238_pk1 = [0.98,1.0,1.08,1.3,1.6,1.88,2.14,2.38,2.64,2.88,3.12,3.36,3.59,3.8,4.02,4.23,4.44,4.85,5.25,5.65,6.05,6.45,6.87,7.32,7.8,8.25,8.65,9.05,9.45];
const u238_oslo = [[0.06,1.04],[0.17,1.15],[0.31,1.21],[0.45,1.06],[0.59,1.15],[0.8,1.22],[1.0,1.5],[1.25,1.75],[1.5,2.0],[1.75,2.22],[2.0,2.45],[2.25,2.68],[2.5,2.9],[2.75,3.12],[3.0,3.35],[3.25,3.58],[3.5,3.8,0.1,0.1],[3.7,4.0,0.15,0.15],[3.89,4.5,0.2,0.2],[4.06,4.8,0.25,0.25],
  [1.12,1.62],[1.37,1.88],[1.62,2.1],[1.87,2.33],[2.12,2.57],[2.37,2.79],[2.62,3.01],[2.87,3.24],[3.12,3.47],[3.37,3.69,0.08,0.08],[3.6,3.9,0.12,0.12]];
const u238_lev = [1,1,2,1,0,0,1,1,2,3,4,4,8,12,10,8,8,10,10,8,10,12,15,15,12,12];

const panels = [
  ['74','Ge', E29, ge74_me2, ge74_pc1, ge74_pk1, ge74_oslo, ge74_lev],
  ['92','Zr', E29, zr92_me2, zr92_pc1, zr92_pk1, zr92_oslo, zr92_lev],
  ['98','Mo', E29, mo98_me2, mo98_pc1, mo98_pk1, mo98_oslo, mo98_lev],
  ['106','Pd', E29, pd106_me2, pd106_pc1, pd106_pk1, pd106_oslo, pd106_lev],
  ['108','Pd', E29, pd108_me2, pd108_pc1, pd108_pk1, pd108_oslo, pd108_lev],
  ['112','Cd', E29, cd112_me2, cd112_pc1, cd112_pk1, cd112_oslo, cd112_lev],
  ['118','Sn', E29, sn118_me2, sn118_pc1, sn118_pk1, sn118_oslo, sn118_lev],
  ['120','Sn', E29, sn120_me2, sn120_pc1, sn120_pk1, sn120_oslo, sn120_lev],
  ['148','Nd', E29, nd148_me2, nd148_pc1, nd148_pk1, nd148_oslo, nd148_lev],
  ['162','Dy', E29, dy162_me2, dy162_pc1, dy162_pk1, dy162_oslo, dy162_lev],
  ['164','Dy', E29, dy164_me2, dy164_pc1, dy164_pk1, dy164_oslo, dy164_lev],
  ['166','Er', E29, er166_me2, er166_pc1, er166_pk1, er166_oslo, er166_lev],
  ['170','Yb', E29, yb170_me2, yb170_pc1, yb170_pk1, yb170_oslo, yb170_lev],
  ['172','Yb', E29, yb172_me2, yb172_pc1, yb172_pk1, yb172_oslo, yb172_lev],
  ['208','Pb', E41, pb208_me2, pb208_pc1, pb208_pk1, pb208_oslo, pb208_lev],
  ['238','U', E29, u238_me2, u238_pc1, u238_pk1, u238_oslo, u238_lev]
];

// layout
const X0 = 97, PW = 312;
const ROWS = [8, 260, 513, 765, 1017];
const FONT = '"Liberation Serif", "Times New Roman", serif';
const wrap = document.getElementById('wrap');

const STYLES = [
  { color: '#ff8c00', dash: [9, 6] },
  { color: '#ff0000', dash: [] },
  { color: '#0000ff', dash: [7, 3, 2, 3] }
];

const curve = (grid, vals) => grid.map((x, i) => ({ x: x, y: Math.pow(10, vals[i]) }));

function histPoints(lev) {
  const pts = [{ x: 0, y: 1e-4 }];
  lev.forEach((n, i) => {
    const d = n > 0 ? n / BIN : 1e-4;
    pts.push({ x: i * BIN, y: d }, { x: (i + 1) * BIN, y: d });
  });
  pts.push({ x: lev.length * BIN, y: 1e-4 });
  return pts;
}

function drawPow(ctx, x, y, exp, size) {
  // "10" with a superscript exponent, right aligned at x, centred at y
  ctx.font = 'bold ' + size + 'px ' + FONT;
  const w1 = ctx.measureText('10').width;
  const small = 'bold ' + Math.round(size * 0.64) + 'px ' + FONT;
  ctx.font = small;
  const w2 = ctx.measureText(exp).width;
  const x1 = x - w1 - w2;
  ctx.textAlign = 'left';
  ctx.textBaseline = 'alphabetic';
  ctx.font = 'bold ' + size + 'px ' + FONT;
  ctx.fillText('10', x1, y + size * 0.33);
  ctx.font = small;
  ctx.fillText(exp, x1 + w1, y - size * 0.12);
}

function makePanel(p, idx) {
  const [mass, sym, grid, me2, pc1, pk1, oslo, lev] = p;
  const r = Math.floor(idx / 4), c = idx % 4;
  const left = X0 + c * PW, top = ROWS[r];
  const w = PW, h = ROWS[r + 1] - ROWS[r];
  const padL = c === 0 ? 97 : 6, padR = c === 3 ? 24 : 6, padT = 6, padB = r === 3 ? 80 : 16;
  const yMaxExp = r < 2 ? 6 : 8;

  const cv = document.createElement('canvas');
  cv.width = w + padL + padR;
  cv.height = h + padT + padB;
  cv.style.left = (left - padL) + 'px';
  cv.style.top = (top - padT) + 'px';
  cv.style.width = cv.width + 'px';
  cv.style.height = cv.height + 'px';
  wrap.appendChild(cv);
  const offX = left - padL, offY = top - padT;

  const deco = {
    id: 'deco' + idx,
    afterDatasetsDraw(chart) {
      // Oslo error bars
      const ctx = chart.ctx, a = chart.chartArea;
      const xs = chart.scales.x, ys = chart.scales.y;
      ctx.save();
      ctx.beginPath();
      ctx.rect(a.left, a.top, a.right - a.left, a.bottom - a.top);
      ctx.clip();
      ctx.strokeStyle = '#000';
      ctx.lineWidth = 1;
      oslo.forEach(pt => {
        if (pt.length < 4) return;
        const px = Math.round(xs.getPixelForValue(pt[0])) + 0.5;
        const yHi = ys.getPixelForValue(Math.pow(10, pt[1] + pt[3]));
        const yLo = pt[2] >= 9 ? a.bottom + 2 : ys.getPixelForValue(Math.pow(10, pt[1] - pt[2]));
        ctx.beginPath();
        ctx.moveTo(px, yLo); ctx.lineTo(px, yHi);
        ctx.moveTo(px - 3, yHi); ctx.lineTo(px + 3, yHi);
        if (pt[2] < 9) { ctx.moveTo(px - 3, yLo); ctx.lineTo(px + 3, yLo); }
        ctx.stroke();
      });
      ctx.restore();
    },
    afterDraw(chart) {
      const ctx = chart.ctx, a = chart.chartArea;
      const xs = chart.scales.x, ys = chart.scales.y;
      ctx.save();
      ctx.strokeStyle = '#000';
      ctx.fillStyle = '#000';
      // inward ticks
      ctx.lineWidth = 1.5;
      ctx.beginPath();
      for (let v = 1; v < 10; v++) {
        const px = xs.getPixelForValue(v);
        ctx.moveTo(px, a.bottom); ctx.lineTo(px, a.bottom - 6);
        ctx.moveTo(px, a.top); ctx.lineTo(px, a.top + 6);
      }
      for (let e = -1; e <= yMaxExp; e++) {
        const py = ys.getPixelForValue(Math.pow(10, e));
        ctx.moveTo(a.left, py); ctx.lineTo(a.left + 7, py);
        ctx.moveTo(a.right, py); ctx.lineTo(a.right - 7, py);
      }
      ctx.stroke();
      ctx.lineWidth = 1;
      ctx.beginPath();
      for (let e = -1; e < yMaxExp; e++) {
        for (let m = 2; m <= 9; m++) {
          const py = ys.getPixelForValue(m * Math.pow(10, e));
          ctx.moveTo(a.left, py); ctx.lineTo(a.left + 4, py);
          ctx.moveTo(a.right, py); ctx.lineTo(a.right - 4, py);
        }
      }
      ctx.stroke();
      // frame
      ctx.lineWidth = 2.2;
      ctx.strokeRect(a.left, a.top, a.right - a.left, a.bottom - a.top);

      // nucleus label
      ctx.textAlign = 'left';
      ctx.textBaseline = 'alphabetic';
      ctx.font = 'bold 22px ' + FONT;
      ctx.fillText(mass, a.left + 27, a.top + 42);
      const mw = ctx.measureText(mass).width;
      ctx.font = 'bold 36px ' + FONT;
      ctx.fillText(sym, a.left + 28 + mw, a.top + 64);

      // y axis labels and title
      if (c === 0) {
        for (let e = -1; e < yMaxExp; e += 2) {
          const py = ys.getPixelForValue(Math.pow(10, e));
          drawPow(ctx, a.left - 6, py, String(e), 21);
        }
        const cy = (a.top + a.bottom) / 2;
        ctx.save();
        ctx.translate(47, cy);
        ctx.rotate(-Math.PI / 2);
        ctx.font = 'bold 29px ' + FONT;
        const t1 = '\u03c1 (MeV', t3 = ')';
        const w1 = ctx.measureText(t1).width, w3 = ctx.measureText(t3).width;
        ctx.font = 'bold 19px ' + FONT;
        const w2 = ctx.measureText('-1').width;
        const x = -(w1 + w2 + w3) / 2;
        ctx.font = 'bold 29px ' + FONT;
        ctx.fillText(t1, x, 0);
        ctx.font = 'bold 19px ' + FONT;
        ctx.fillText('-1', x + w1, -11);
        ctx.font = 'bold 29px ' + FONT;
        ctx.fillText(t3, x + w1 + w2, 0);
        ctx.restore();
      }
      // x axis labels and title
      if (r === 3) {
        ctx.font = 'bold 20px ' + FONT;
        ctx.textAlign = 'center';
        ctx.textBaseline = 'middle';
        const last = c === 3 ? 10 : 8;
        for (let v = 0; v <= last; v += 2) {
          ctx.fillText(String(v), xs.getPixelForValue(v), a.bottom + 17);
        }
        ctx.font = 'bold 28px ' + FONT;
        ctx.fillText('U (MeV)', (a.left + a.right) / 2, a.bottom + 62);
      }
      // legend
      if (idx === 15) {
        const lx = 1140 - offX, ly = 883 - offY, lw = 190, lh = 129;
        ctx.fillStyle = '#000';
        ctx.fillRect(lx + 3, ly + 3, lw, lh);
        ctx.fillStyle = '#fff';
        ctx.fillRect(lx, ly, lw, lh);
        ctx.lineWidth = 1;
        ctx.strokeStyle = '#000';
        ctx.strokeRect(lx + 0.5, ly + 0.5, lw, lh);
        const rowsY = [899, 924, 949, 974, 998];
        const sx0 = 1145 - offX, sx1 = 1188 - offX;
        rowsY.forEach((yy, k) => {
          const y = yy - offY;
          ctx.save();
          if (k === 0) {
            ctx.strokeStyle = '#000'; ctx.lineWidth = 1;
            ctx.beginPath(); ctx.moveTo(sx0, y); ctx.lineTo(sx1, y); ctx.stroke();
          } else if (k === 1) {
            ctx.fillStyle = '#000';
            ctx.beginPath(); ctx.arc((sx0 + sx1) / 2, y, 3.6, 0, 2 * Math.PI); ctx.fill();
          } else {
            const st = STYLES[k - 2];
            ctx.strokeStyle = st.color; ctx.lineWidth = 2.5;
            ctx.setLineDash(st.dash);
            ctx.beginPath(); ctx.moveTo(sx0, y); ctx.lineTo(sx1, y); ctx.stroke();
          }
          ctx.restore();
          ctx.fillStyle = '#000';
          ctx.font = '17px ' + FONT;
          ctx.textAlign = 'left';
          ctx.textBaseline = 'middle';
          ctx.fillText(LEGEND_LABELS[k], 1192 - offX, y);
        });
      }
      ctx.restore();
    }
  };

  const line = (data, st, order) => ({
    data: data, borderColor: st.color, borderWidth: 2.5, borderDash: st.dash,
    pointRadius: 0, cubicInterpolationMode: 'monotone', fill: false, clip: 0, order: order
  });

  new Chart(cv, {
    type: 'line',
    data: {
      datasets: [
        { data: histPoints(lev), borderColor: '#000', borderWidth: 1, pointRadius: 0,
          tension: 0, fill: false, clip: 0, order: 5 },
        { data: oslo.map(o => ({ x: o[0], y: Math.pow(10, o[1]) })), showLine: false,
          pointRadius: 3.7, pointBackgroundColor: '#000', pointBorderWidth: 0, clip: 0, order: 4 },
        line(curve(grid, me2), STYLES[0], 3),
        line(curve(grid, pc1), STYLES[1], 2),
        line(curve(grid, pk1), STYLES[2], 1)
      ]
    },
    options: {
      responsive: false,
      animation: false,
      devicePixelRatio: 1,
      events: [],
      layout: { padding: { left: padL, right: padR, top: padT, bottom: padB } },
      plugins: { legend: { display: false }, tooltip: { enabled: false } },
      scales: {
        x: { type: 'linear', min: 0, max: 10, display: false },
        y: { type: 'logarithmic', min: 0.1, max: Math.pow(10, yMaxExp), display: false }
      }
    },
    plugins: [deco]
  });
}

panels.forEach(makePanel);
</script>
</body>
</html>
